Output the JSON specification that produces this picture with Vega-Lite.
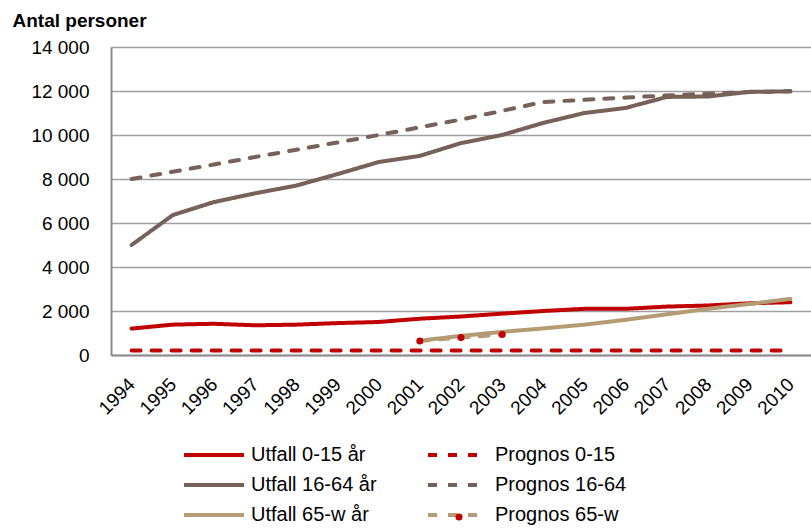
{
  "$schema": "https://vega.github.io/schema/vega-lite/v6.json",
  "width": 700,
  "height": 308,
  "autosize": {"type": "none"},
  "padding": {"left": 111, "top": 47, "right": 0, "bottom": 177},
  "config": {
    "view": {"stroke": null},
    "font": "Liberation Sans",
    "axis": {"labelFont": "Liberation Sans", "titleFont": "Liberation Sans"},
    "legend": {"labelFont": "Liberation Sans"}
  },
  "data": {
    "values": [
      {"year": "1994", "series": "Utfall 0-15 år", "value": 1200},
      {"year": "1995", "series": "Utfall 0-15 år", "value": 1380},
      {"year": "1996", "series": "Utfall 0-15 år", "value": 1420},
      {"year": "1997", "series": "Utfall 0-15 år", "value": 1350},
      {"year": "1998", "series": "Utfall 0-15 år", "value": 1380},
      {"year": "1999", "series": "Utfall 0-15 år", "value": 1450},
      {"year": "2000", "series": "Utfall 0-15 år", "value": 1500},
      {"year": "2001", "series": "Utfall 0-15 år", "value": 1650},
      {"year": "2002", "series": "Utfall 0-15 år", "value": 1750},
      {"year": "2003", "series": "Utfall 0-15 år", "value": 1880},
      {"year": "2004", "series": "Utfall 0-15 år", "value": 2000},
      {"year": "2005", "series": "Utfall 0-15 år", "value": 2100},
      {"year": "2006", "series": "Utfall 0-15 år", "value": 2100},
      {"year": "2007", "series": "Utfall 0-15 år", "value": 2200},
      {"year": "2008", "series": "Utfall 0-15 år", "value": 2250},
      {"year": "2009", "series": "Utfall 0-15 år", "value": 2350},
      {"year": "2010", "series": "Utfall 0-15 år", "value": 2400},

      {"year": "1994", "series": "Prognos 0-15", "value": 200},
      {"year": "1995", "series": "Prognos 0-15", "value": 200},
      {"year": "1996", "series": "Prognos 0-15", "value": 200},
      {"year": "1997", "series": "Prognos 0-15", "value": 200},
      {"year": "1998", "series": "Prognos 0-15", "value": 200},
      {"year": "1999", "series": "Prognos 0-15", "value": 200},
      {"year": "2000", "series": "Prognos 0-15", "value": 200},
      {"year": "2001", "series": "Prognos 0-15", "value": 200},
      {"year": "2002", "series": "Prognos 0-15", "value": 200},
      {"year": "2003", "series": "Prognos 0-15", "value": 200},
      {"year": "2004", "series": "Prognos 0-15", "value": 200},
      {"year": "2005", "series": "Prognos 0-15", "value": 200},
      {"year": "2006", "series": "Prognos 0-15", "value": 200},
      {"year": "2007", "series": "Prognos 0-15", "value": 200},
      {"year": "2008", "series": "Prognos 0-15", "value": 200},
      {"year": "2009", "series": "Prognos 0-15", "value": 200},
      {"year": "2010", "series": "Prognos 0-15", "value": 200},

      {"year": "1994", "series": "Utfall 16-64 år", "value": 5000},
      {"year": "1995", "series": "Utfall 16-64 år", "value": 6360},
      {"year": "1996", "series": "Utfall 16-64 år", "value": 6950},
      {"year": "1997", "series": "Utfall 16-64 år", "value": 7350},
      {"year": "1998", "series": "Utfall 16-64 år", "value": 7700},
      {"year": "1999", "series": "Utfall 16-64 år", "value": 8220},
      {"year": "2000", "series": "Utfall 16-64 år", "value": 8770},
      {"year": "2001", "series": "Utfall 16-64 år", "value": 9050},
      {"year": "2002", "series": "Utfall 16-64 år", "value": 9630},
      {"year": "2003", "series": "Utfall 16-64 år", "value": 10000},
      {"year": "2004", "series": "Utfall 16-64 år", "value": 10550},
      {"year": "2005", "series": "Utfall 16-64 år", "value": 11000},
      {"year": "2006", "series": "Utfall 16-64 år", "value": 11230},
      {"year": "2007", "series": "Utfall 16-64 år", "value": 11730},
      {"year": "2008", "series": "Utfall 16-64 år", "value": 11750},
      {"year": "2009", "series": "Utfall 16-64 år", "value": 11960},
      {"year": "2010", "series": "Utfall 16-64 år", "value": 11980},

      {"year": "1994", "series": "Prognos 16-64", "value": 8000},
      {"year": "1995", "series": "Prognos 16-64", "value": 8330},
      {"year": "1996", "series": "Prognos 16-64", "value": 8660},
      {"year": "1997", "series": "Prognos 16-64", "value": 9000},
      {"year": "1998", "series": "Prognos 16-64", "value": 9330},
      {"year": "1999", "series": "Prognos 16-64", "value": 9660},
      {"year": "2000", "series": "Prognos 16-64", "value": 10000},
      {"year": "2001", "series": "Prognos 16-64", "value": 10350},
      {"year": "2002", "series": "Prognos 16-64", "value": 10700},
      {"year": "2003", "series": "Prognos 16-64", "value": 11100},
      {"year": "2004", "series": "Prognos 16-64", "value": 11500},
      {"year": "2005", "series": "Prognos 16-64", "value": 11600},
      {"year": "2006", "series": "Prognos 16-64", "value": 11700},
      {"year": "2007", "series": "Prognos 16-64", "value": 11800},
      {"year": "2008", "series": "Prognos 16-64", "value": 11880},
      {"year": "2009", "series": "Prognos 16-64", "value": 11950},
      {"year": "2010", "series": "Prognos 16-64", "value": 12000},

      {"year": "2001", "series": "Utfall 65-w år", "value": 650},
      {"year": "2002", "series": "Utfall 65-w år", "value": 870},
      {"year": "2003", "series": "Utfall 65-w år", "value": 1050},
      {"year": "2004", "series": "Utfall 65-w år", "value": 1210},
      {"year": "2005", "series": "Utfall 65-w år", "value": 1380},
      {"year": "2006", "series": "Utfall 65-w år", "value": 1600},
      {"year": "2007", "series": "Utfall 65-w år", "value": 1850},
      {"year": "2008", "series": "Utfall 65-w år", "value": 2100},
      {"year": "2009", "series": "Utfall 65-w år", "value": 2320},
      {"year": "2010", "series": "Utfall 65-w år", "value": 2550},

      {"year": "2001", "series": "Prognos 65-w", "value": 640},
      {"year": "2002", "series": "Prognos 65-w", "value": 790},
      {"year": "2003", "series": "Prognos 65-w", "value": 930}
    ]
  },
  "encoding": {
    "x": {
      "field": "year", "type": "ordinal",
      "scale": {"type": "point", "padding": 0.5},
      "axis": {
        "title": null, "labelAngle": -45, "labelAlign": "right", "labelBaseline": "middle",
        "labelFontSize": 19, "labelColor": "#000", "labelPadding": 26,
        "ticks": false, "domainColor": "#8c8c8c", "domainWidth": 2, "grid": false
      }
    },
    "y": {
      "field": "value", "type": "quantitative",
      "scale": {"domain": [0, 14000], "nice": false},
      "axis": {
        "title": "Antal personer", "titleAngle": 0, "titleAlign": "left", "titleBaseline": "alphabetic",
        "titleX": -99, "titleY": -21, "titleFontSize": 19, "titleFontWeight": "bold", "titleColor": "#000",
        "values": [0, 2000, 4000, 6000, 8000, 10000, 12000, 14000],
        "labelExpr": "replace(format(datum.value, ',d'), ',', ' ')",
        "labelFontSize": 19, "labelColor": "#000", "labelPadding": 22,
        "ticks": false, "domainColor": "#8c8c8c", "domainWidth": 2,
        "gridColor": "#a0a0a0", "gridWidth": 1.5
      }
    }
  },
  "layer": [
    {
      "mark": {"type": "line", "strokeWidth": 4, "strokeCap": "round", "strokeJoin": "round"},
      "encoding": {
        "color": {
          "field": "series", "type": "nominal",
          "scale": {
            "domain": ["Utfall 0-15 år", "Prognos 0-15", "Utfall 16-64 år", "Prognos 16-64", "Utfall 65-w år", "Prognos 65-w"],
            "range": ["#C00000", "#C00000", "#766259", "#766259", "#B59B74", "#B59B74"]
          },
          "legend": {
            "title": null, "orient": "none", "legendX": 93, "legendY": 398, "columns": 2,
            "direction": "horizontal",
            "symbolType": "M-4,0H4", "symbolSize": 225, "symbolStrokeWidth": 4,
            "labelFontSize": 20, "labelColor": "#000", "labelOffset": 27,
            "columnPadding": 37, "rowPadding": 10, "gridAlign": "all", "symbolLimit": 0,
            "labelLimit": 300
          }
        },
        "strokeDash": {
          "field": "series", "type": "nominal",
          "scale": {
            "domain": ["Utfall 0-15 år", "Prognos 0-15", "Utfall 16-64 år", "Prognos 16-64", "Utfall 65-w år", "Prognos 65-w"],
            "range": [[1, 0], [9, 11], [1, 0], [9, 11], [1, 0], [9, 11]]
          },
          "legend": null
        },
        "order": {"field": "series"}
      }
    },
    {
      "transform": [{"filter": "datum.series === 'Prognos 65-w'"}],
      "mark": {"type": "point", "filled": true, "color": "#C00000", "size": 50, "opacity": 1},
      "encoding": {
        "shape": {
          "datum": "dot",
          "scale": {"domain": ["dot"], "range": ["circle"]},
          "legend": {
            "title": null, "orient": "none", "legendX": 344, "legendY": 466,
            "labelExpr": "''", "labelFontSize": 1, "labelOffset": 0,
            "symbolSize": 50, "symbolFillColor": "#C00000", "symbolStrokeColor": "#C00000",
            "symbolStrokeWidth": 0, "padding": 0
          }
        }
      }
    }
  ]
}
